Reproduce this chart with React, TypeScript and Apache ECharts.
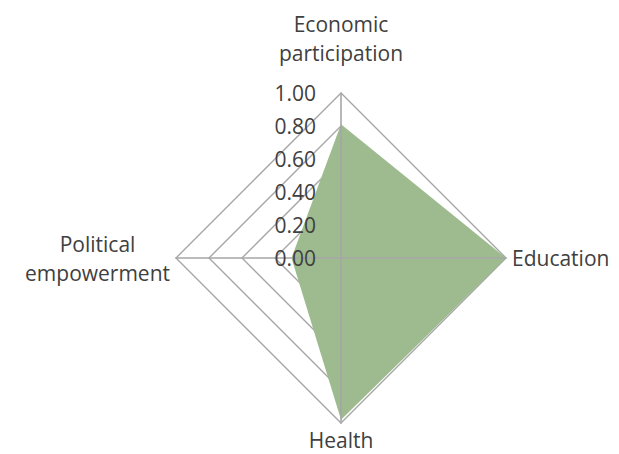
import React, { useEffect, useRef } from "react";
import * as echarts from "echarts";

const indicators = ["Economic participation", "Political empowerment", "Health", "Education"];
const values = [0.81, 0.3, 0.98, 1.0];
const tickMax = 1;
const splitCount = 5;

const FONT = "Open Sans";
const TEXT = "#404040";
const GRID = "#a6a6a6";

export default function App() {
  const ref = useRef<HTMLDivElement>(null);
  useEffect(() => {
    if (!ref.current) return;
    const chart = echarts.init(ref.current, null, { renderer: "svg" });
    const baseRadar = {
      center: [341, 258],
      radius: 165,
      startAngle: 90,
      shape: "polygon",
      splitNumber: splitCount,
    };
    const textBase = { color: TEXT, fontSize: 21, fontFamily: FONT };
    chart.setOption({
      animation: false,
      backgroundColor: "#ffffff",
      radar: [
        {
          ...baseRadar,
          z: 0,
          indicator: indicators.map((n) => ({ name: n, min: 0, max: tickMax })),
          nameGap: 6,
          axisName: {
            ...textBase,
            lineHeight: 29,
            formatter: (name: string) => {
              if (name === "Economic participation") return "{c|Economic}\n{c|participation}\n{gap| }";
              if (name === "Political empowerment") return "{c|Political}\n{c|empowerment}";
              if (name === "Health") return "{h|Health}";
              return "{e|" + name + "}";
            },
            rich: {
              c: { ...textBase, lineHeight: 29, align: "center" },
              gap: { fontSize: 4, lineHeight: 20 },
              h: { ...textBase, lineHeight: 22 },
              e: { ...textBase, lineHeight: 26 },
            },
          },
          splitLine: { show: true, lineStyle: { color: GRID, width: 1.4 } },
          splitArea: { show: false },
          axisLine: { show: false },
          axisTick: { show: false },
          axisLabel: { show: false },
        },
        {
          ...baseRadar,
          z: 5,
          indicator: indicators.map((n, i) => ({
            name: n,
            min: 0,
            max: tickMax,
            axisLabel: i === 0
              ? {
                  show: true,
                  ...textBase,
                  margin: 25,
                  formatter: (v: number) => v.toFixed(2),
                }
              : { show: false },
          })),
          axisName: { show: false },
          splitLine: { show: false },
          splitArea: { show: false },
          axisLine: { show: true, lineStyle: { color: GRID, width: 1.6 } },
          axisTick: { show: false },
          axisLabel: { show: false },
        },
      ],
      series: [
        {
          type: "radar",
          radarIndex: 0,
          z: 2,
          symbol: "none",
          lineStyle: { width: 0 },
          areaStyle: { color: "#9dbb8e", opacity: 1 },
          data: [{ value: values, name: "Score" }],
        },
      ],
    });
    return () => chart.dispose();
  }, []);
  return (
    <div
      ref={ref}
      style={{ position: "fixed", left: 0, top: 0, width: 619, height: 454 }}
    />
  );
}
